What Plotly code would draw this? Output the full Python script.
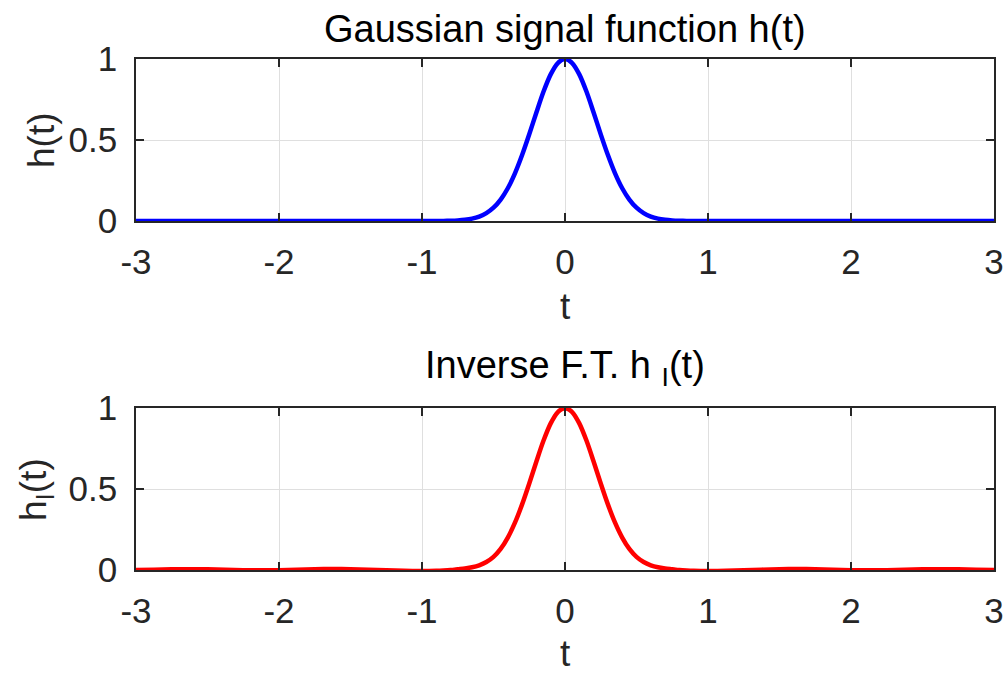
import plotly.graph_objects as go

# ---- data ----
t = [-3.0, -2.875, -2.75, -2.625, -2.5, -2.375, -2.25, -2.125, -2.0, -1.875, -1.75, -1.625,
     -1.5, -1.375, -1.25, -1.125,
     -1.0, -0.95, -0.9, -0.85, -0.8, -0.75, -0.7, -0.65, -0.6, -0.55, -0.5, -0.45, -0.4,
     -0.35, -0.3, -0.25, -0.2, -0.15, -0.1, -0.05, 0.0, 0.05, 0.1, 0.15, 0.2, 0.25, 0.3,
     0.35, 0.4, 0.45, 0.5, 0.55, 0.6, 0.65, 0.7, 0.75, 0.8, 0.85, 0.9, 0.95, 1.0,
     1.125, 1.25, 1.375, 1.5, 1.625, 1.75, 1.875, 2.0, 2.125, 2.25, 2.375, 2.5, 2.625,
     2.75, 2.875, 3.0]

h = [0.0, 0.0, 0.0, 0.0, 0.0, 0.0, 0.0, 0.0, 0.0, 0.0, 0.0, 0.0,
     0.0, 0.0, 0.0, 0.0,
     0.0, 0.0001, 0.0003, 0.0007, 0.0017, 0.0036, 0.0074, 0.0146, 0.0273, 0.0486, 0.082,
     0.132, 0.202, 0.294, 0.407, 0.535, 0.670, 0.799, 0.905, 0.975, 1.0, 0.975, 0.905,
     0.799, 0.670, 0.535, 0.407, 0.294, 0.202, 0.132, 0.082, 0.0486, 0.0273, 0.0146,
     0.0074, 0.0036, 0.0017, 0.0007, 0.0003, 0.0001, 0.0,
     0.0, 0.0, 0.0, 0.0, 0.0, 0.0, 0.0, 0.0, 0.0, 0.0, 0.0, 0.0, 0.0, 0.0, 0.0, 0.0]

h_inv = [0.0, 0.002, 0.004, 0.005, 0.004, 0.002, -0.001, -0.002, -0.001, 0.002, 0.005, 0.006,
         0.005, 0.002, -0.002, -0.005,
         -0.006, -0.006, -0.005, -0.003, 0.0, 0.005, 0.010, 0.017, 0.029, 0.049, 0.081,
         0.130, 0.200, 0.292, 0.405, 0.534, 0.670, 0.799, 0.905, 0.975, 0.999, 0.975, 0.905,
         0.799, 0.670, 0.534, 0.405, 0.292, 0.200, 0.130, 0.081, 0.049, 0.029, 0.017,
         0.010, 0.005, 0.0, -0.003, -0.005, -0.006, -0.006,
         -0.005, -0.002, 0.002, 0.005, 0.006, 0.005, 0.002, -0.001, -0.002, -0.001, 0.002,
         0.004, 0.005, 0.004, 0.002, 0.0]

x_ticks = [-3, -2, -1, 0, 1, 2, 3]
x_ticktext = ["-3", "-2", "-1", "0", "1", "2", "3"]
y_ticks = [0, 0.5, 1]
y_ticktext = ["0", "0.5", "1"]

titles = ["Gaussian signal function h(t)", "Inverse F.T. h <sub>I</sub>(t)"]
ylabels = ["h(t)", "h<sub>I</sub>(t)"]
xlabel = "t"

# ---- figure ----
W, H = 1008, 675
FONT = "Liberation Sans, Arial, Helvetica, sans-serif"
INK = "#262626"
TICK_SIZE = 35
LABEL_SIZE = 37
TITLE_SIZE = 38

fig = go.Figure()
fig.add_trace(go.Scatter(x=t, y=h, mode="lines",
                         line=dict(color="#0000ff", width=4.5, shape="spline", smoothing=0.8),
                         xaxis="x", yaxis="y", showlegend=False))
fig.add_trace(go.Scatter(x=t, y=h_inv, mode="lines",
                         line=dict(color="#ff0000", width=4.5, shape="spline", smoothing=0.8),
                         xaxis="x2", yaxis="y2", showlegend=False))

xdom = [136 / W, 994 / W]
ydom_top = [1 - 221 / H, 1 - 59 / H]
ydom_bot = [1 - 570 / H, 1 - 408 / H]

def xax(anchor):
    return dict(domain=xdom, anchor=anchor, range=[-3, 3], tickmode="array",
                tickvals=x_ticks, ticktext=x_ticktext, showgrid=True, gridcolor="#dfdfdf",
                gridwidth=1, zeroline=False, showline=True, linecolor=INK, linewidth=1.5,
                mirror="ticks", ticks="inside", ticklen=8, tickwidth=1.5, tickcolor=INK,
                tickfont=dict(family=FONT, size=TICK_SIZE, color=INK),
                ticklabelstandoff=9, automargin=False)

def yax(anchor, dom):
    return dict(domain=dom, anchor=anchor, range=[0, 1], tickmode="array",
                tickvals=y_ticks, ticktext=y_ticktext, showgrid=True, gridcolor="#dfdfdf",
                gridwidth=1, zeroline=False, showline=True, linecolor=INK, linewidth=1.5,
                mirror="ticks", ticks="inside", ticklen=8, tickwidth=1.5, tickcolor=INK,
                tickfont=dict(family=FONT, size=TICK_SIZE, color=INK),
                ticklabelstandoff=10, automargin=False)

fig.update_layout(
    width=W, height=H, margin=dict(l=0, r=0, t=0, b=0, pad=0, autoexpand=False),
    paper_bgcolor="white", plot_bgcolor="white",
    xaxis=xax("y"), yaxis=yax("x", ydom_top),
    xaxis2=xax("y2"), yaxis2=yax("x2", ydom_bot),
)

ann = []
cx = (136 + 994) / 2 / W
# titles
ann.append(dict(text=titles[0], x=cx, y=1 - 29 / H, xref="paper", yref="paper",
                xanchor="center", yanchor="middle", showarrow=False,
                font=dict(family=FONT, size=TITLE_SIZE, color="black")))
ann.append(dict(text=titles[1], x=cx, y=1 - 368 / H, xref="paper", yref="paper",
                xanchor="center", yanchor="middle", showarrow=False,
                font=dict(family=FONT, size=TITLE_SIZE, color="black")))
# x labels
ann.append(dict(text=xlabel, x=cx, y=1 - 306 / H, xref="paper", yref="paper",
                xanchor="center", yanchor="middle", showarrow=False,
                font=dict(family=FONT, size=LABEL_SIZE, color=INK)))
ann.append(dict(text=xlabel, x=cx, y=1 - 653 / H, xref="paper", yref="paper",
                xanchor="center", yanchor="middle", showarrow=False,
                font=dict(family=FONT, size=LABEL_SIZE, color=INK)))
# y labels
ann.append(dict(text=ylabels[0], x=42 / W, y=1 - 140 / H, xref="paper", yref="paper",
                xanchor="center", yanchor="middle", showarrow=False, textangle=-90,
                font=dict(family=FONT, size=LABEL_SIZE, color=INK)))
ann.append(dict(text=ylabels[1], x=36 / W, y=1 - 490 / H, xref="paper", yref="paper",
                xanchor="center", yanchor="middle", showarrow=False, textangle=-90,
                font=dict(family=FONT, size=LABEL_SIZE, color=INK)))
fig.update_layout(annotations=ann)

fig.write_html("out.html")
